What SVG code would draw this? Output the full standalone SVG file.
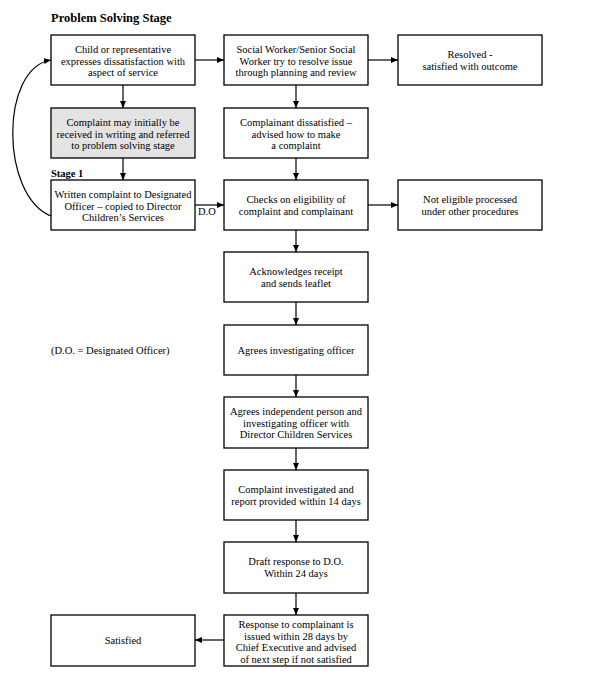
<svg xmlns="http://www.w3.org/2000/svg" width="596" height="680" viewBox="0 0 596 680">
<defs>
<style>
.box{fill:#fff;stroke:#000;stroke-width:1.3}
.grey{fill:#e3e3e3}
text{font-family:"Liberation Serif","Times New Roman",serif;font-size:10.5px;fill:#000}
.c{text-anchor:middle}
.b{font-weight:bold}
.ln{stroke:#000;stroke-width:1.2;fill:none}
</style>
<marker id="ah" markerWidth="8" markerHeight="8" refX="7" refY="4" orient="auto" markerUnits="userSpaceOnUse">
<path d="M0,1 L7,4 L0,7 Z" fill="#000"/>
</marker>
</defs>
<rect width="596" height="680" fill="#fff"/>
<g font-family="Liberation Serif, Times New Roman, serif">
<text x="51" y="22" class="b" style="font-size:12.5px">Problem Solving Stage</text>
<text x="51" y="177" class="b">Stage 1</text>
<text x="51" y="354">(D.O. = Designated Officer)</text>

<g id="n1"><rect class="box" x="51" y="35" width="144" height="50"/>
<text class="c" x="123" y="53">Child or representative</text><text class="c" x="123" y="64.5">expresses dissatisfaction with</text><text class="c" x="123" y="76">aspect of service</text></g>
<g id="n2"><rect class="box grey" x="51" y="108" width="144" height="50"/>
<text class="c" x="123" y="126">Complaint may initially be</text><text class="c" x="123" y="137.5">received in writing and referred</text><text class="c" x="123" y="149">to problem solving stage</text></g>
<g id="n3"><rect class="box" x="51" y="180" width="144" height="50"/>
<text class="c" x="123" y="198">Written complaint to Designated</text><text class="c" x="123" y="209.5">Officer – copied to Director</text><text class="c" x="123" y="221">Children’s Services</text></g>

<g id="m1"><rect class="box" x="224" y="35" width="144" height="50"/>
<text class="c" x="296" y="53">Social Worker/Senior Social</text><text class="c" x="296" y="64.5">Worker try to resolve issue</text><text class="c" x="296" y="76">through planning and review</text></g>
<g id="m2"><rect class="box" x="224" y="108" width="144" height="50"/>
<text class="c" x="296" y="126">Complainant dissatisfied –</text><text class="c" x="296" y="137.5">advised how to make</text><text class="c" x="296" y="149">a complaint</text></g>
<g id="m3"><rect class="box" x="224" y="180" width="144" height="50"/>
<text class="c" x="296" y="203">Checks on eligibility of</text><text class="c" x="296" y="214.5">complaint and complainant</text></g>
<g id="m4"><rect class="box" x="224" y="252" width="144" height="50"/>
<text class="c" x="296" y="275">Acknowledges receipt</text><text class="c" x="296" y="286.5">and sends leaflet</text></g>
<g id="m5"><rect class="box" x="224" y="325" width="144" height="50"/>
<text class="c" x="296" y="354">Agrees investigating officer</text></g>
<g id="m6"><rect class="box" x="224" y="397" width="144" height="51"/>
<text class="c" x="296" y="415">Agrees independent person and</text><text class="c" x="296" y="426.5">investigating officer with</text><text class="c" x="296" y="438">Director Children Services</text></g>
<g id="m7"><rect class="box" x="224" y="470" width="144" height="50"/>
<text class="c" x="296" y="493">Complaint investigated and</text><text class="c" x="296" y="504.5">report provided within 14 days</text></g>
<g id="m8"><rect class="box" x="224" y="542" width="144" height="51"/>
<text class="c" x="296" y="565">Draft response to D.O.</text><text class="c" x="296" y="576.5">Within 24 days</text></g>
<g id="m9"><rect class="box" x="224" y="615" width="144" height="51"/>
<text class="c" x="296" y="628">Response to complainant is</text><text class="c" x="296" y="639.5">issued within 28 days by</text><text class="c" x="296" y="651">Chief Executive and advised</text><text class="c" x="296" y="662.5">of next step if not satisfied</text></g>

<g id="r1"><rect class="box" x="398" y="35" width="144" height="50"/>
<text class="c" x="470" y="58">Resolved -</text><text class="c" x="470" y="69.5">satisfied with outcome</text></g>
<g id="r3"><rect class="box" x="398" y="180" width="144" height="50"/>
<text class="c" x="470" y="203">Not eligible processed</text><text class="c" x="470" y="214.5">under other procedures</text></g>
<g id="s1"><rect class="box" x="51" y="615" width="144" height="51"/>
<text class="c" x="123" y="644">Satisfied</text></g>

<g id="connectors">
<line class="ln" x1="195" y1="60" x2="224" y2="60" marker-end="url(#ah)"/>
<line class="ln" x1="368" y1="60" x2="398" y2="60" marker-end="url(#ah)"/>
<line class="ln" x1="195" y1="205" x2="224" y2="205" marker-end="url(#ah)"/>
<text x="198" y="215">D.O</text>
<line class="ln" x1="368" y1="205" x2="398" y2="205" marker-end="url(#ah)"/>
<line class="ln" x1="224" y1="640" x2="195" y2="640" marker-end="url(#ah)"/>
<line class="ln" x1="123" y1="85" x2="123" y2="108" marker-end="url(#ah)"/>
<line class="ln" x1="123" y1="158" x2="123" y2="180" marker-end="url(#ah)"/>
<line class="ln" x1="296" y1="85" x2="296" y2="108" marker-end="url(#ah)"/>
<line class="ln" x1="296" y1="158" x2="296" y2="180" marker-end="url(#ah)"/>
<line class="ln" x1="296" y1="230" x2="296" y2="252" marker-end="url(#ah)"/>
<line class="ln" x1="296" y1="302" x2="296" y2="325" marker-end="url(#ah)"/>
<line class="ln" x1="296" y1="375" x2="296" y2="397" marker-end="url(#ah)"/>
<line class="ln" x1="296" y1="448" x2="296" y2="470" marker-end="url(#ah)"/>
<line class="ln" x1="296" y1="520" x2="296" y2="542" marker-end="url(#ah)"/>
<line class="ln" x1="296" y1="593" x2="296" y2="615" marker-end="url(#ah)"/>
<path class="ln" d="M51,216 C0,195 0,68 51,60" marker-end="url(#ah)"/>
</g>
</g>
</svg>
